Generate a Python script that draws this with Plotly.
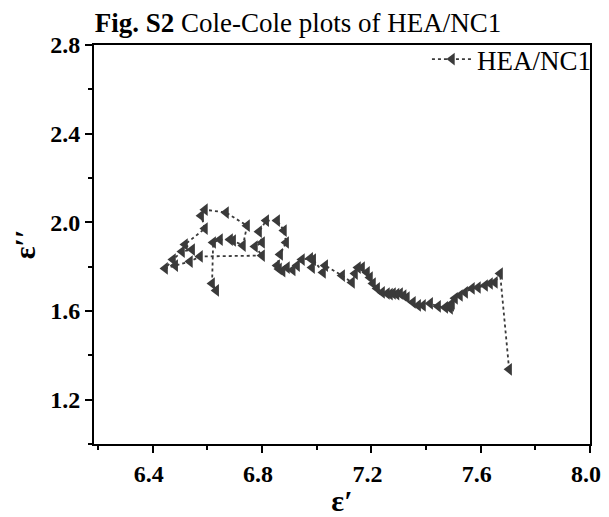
import plotly.graph_objects as go

# Data (path order)
eps_real = [
    7.704, 7.671, 7.652, 7.634, 7.616, 7.590, 7.568, 7.543, 7.524, 7.506,
    7.495, 7.488, 7.492, 7.470, 7.444, 7.415, 7.389, 7.371, 7.352, 7.330,
    7.318, 7.305, 7.292, 7.279, 7.268, 7.257, 7.239, 7.221, 7.206, 7.195,
    7.184, 7.166, 7.151, 7.140, 7.129, 7.093, 7.031, 7.023, 6.987, 6.983,
    6.976, 6.946, 6.928, 6.912, 6.891, 6.875, 6.862, 6.855, 6.866, 6.888,
    6.880, 6.855, 6.815, 6.789, 6.800, 6.774, 6.800, 6.573, 6.536, 6.482,
    6.445, 6.474, 6.507, 6.544, 6.518, 6.591, 6.577, 6.591, 6.668, 6.745,
    6.730, 6.694, 6.683, 6.646, 6.621, 6.617, 6.632,
]
eps_imag = [
    1.337, 1.769, 1.729, 1.724, 1.715, 1.706, 1.702, 1.684, 1.670, 1.657,
    1.634, 1.612, 1.625, 1.616, 1.621, 1.634, 1.625, 1.625, 1.639, 1.661,
    1.670, 1.679, 1.676, 1.679, 1.676, 1.679, 1.684, 1.702, 1.724, 1.751,
    1.774, 1.796, 1.796, 1.769, 1.729, 1.760, 1.805, 1.774, 1.832, 1.796,
    1.837, 1.832, 1.805, 1.785, 1.796, 1.780, 1.790, 1.805, 1.855, 1.909,
    1.963, 2.008, 2.008, 1.958, 1.909, 1.891, 1.850, 1.846, 1.823, 1.805,
    1.792, 1.832, 1.868, 1.877, 1.900, 1.972, 2.030, 2.057, 2.044, 1.985,
    1.895, 1.918, 1.922, 1.922, 1.909, 1.724, 1.693,
]

x_ticks = [6.4, 6.8, 7.2, 7.6, 8.0]
y_ticks = [1.2, 1.6, 2.0, 2.4, 2.8]

color = "#3a3a3a"
serif = "Liberation Serif, Times New Roman, serif"

fig = go.Figure()
fig.add_trace(go.Scatter(
    x=eps_real, y=eps_imag, mode="lines+markers", name="HEA/NC1",
    line=dict(color=color, width=1.8, dash="dot"),
    marker=dict(symbol="triangle-left", size=11, color=color),
))

axis_common = dict(
    showline=True, linecolor="black", linewidth=2, mirror=True,
    ticks="outside", ticklen=7, tickwidth=2, tickcolor="black",
    showgrid=False, zeroline=False,
    tickfont=dict(family=serif, size=24, color="black", weight="bold"),
    title_font=dict(family=serif, size=30, color="black", weight="bold"),
)

fig.update_xaxes(
    range=[6.185, 8.0], tickvals=x_ticks, ticktext=[f"{v:.1f}" for v in x_ticks],
    minor=dict(ticks="outside", ticklen=4, tickwidth=1.5, tickcolor="black", dtick=0.2, tick0=6.2),
    title_text="ε′", title_standoff=4, ticklabelshift=-4,
    **axis_common,
)
fig.update_yaxes(
    range=[1.0, 2.8], tickvals=y_ticks, ticktext=[f"{v:.1f}" for v in y_ticks],
    minor=dict(ticks="outside", ticklen=4, tickwidth=1.5, tickcolor="black", dtick=0.2, tick0=1.0),
    title_text="ε′′", title_standoff=8,
    **axis_common,
)

# page body has an 8px default margin, so the figure is 8px smaller
fig.update_layout(
    width=601, height=509,
    margin=dict(l=86, r=19, t=37, b=73, autoexpand=False),
    paper_bgcolor="white", plot_bgcolor="white",
    title=dict(
        text="<b>Fig. S2</b> Cole-Cole plots of HEA/NC1",
        font=dict(family=serif, size=27, color="black"),
        x=(298 - 8) / 601, xanchor="center", xref="container",
        y=1 - (23 - 8) / 509, yanchor="middle", yref="container",
    ),
    showlegend=True,
    legend=dict(
        x=1.012, y=1.025, xanchor="right", yanchor="top",
        bgcolor="rgba(0,0,0,0)", borderwidth=0,
        font=dict(family=serif, size=27, color="black"),
        itemwidth=40,
    ),
)

fig.write_html("out.html")
